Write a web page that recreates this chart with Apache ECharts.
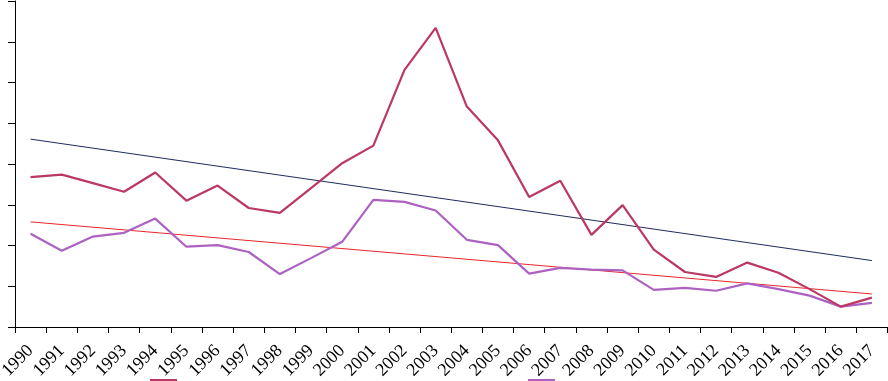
<!DOCTYPE html>
<html>
<head>
<meta charset="utf-8">
<script src="https://cdn.jsdelivr.net/npm/echarts@6/dist/echarts.min.js"></script>
<style>html,body{margin:0;padding:0;background:#fff}#c{width:888px;height:381px}</style>
</head>
<body>
<div id="c"></div>
<script>
const years = ['1990','1991','1992','1993','1994','1995','1996','1997','1998','1999','2000','2001','2002','2003','2004','2005','2006','2007','2008','2009','2010','2011','2012','2013','2014','2015','2016','2017'];
const seriesA = [3.68,3.74,3.53,3.32,3.79,3.10,3.47,2.92,2.80,3.41,4.02,4.45,6.31,7.34,5.41,4.58,3.19,3.59,2.26,2.99,1.90,1.35,1.23,1.58,1.33,0.93,0.50,0.72];
const seriesB = [2.29,1.87,2.22,2.31,2.66,1.97,2.01,1.84,1.30,1.69,2.09,3.12,3.07,2.86,2.14,2.01,1.31,1.45,1.41,1.39,0.91,0.96,0.89,1.07,0.93,0.77,0.50,0.59];
// trend line end values (first year, last year)
const trendA = [4.61, 1.63];
const trendB = [2.58, 0.81];
const yTicks = [0,1,2,3,4,5,6,7,8];

function endpoints(t){ return years.map((y,i)=> i===0 ? t[0] : (i===years.length-1 ? t[1] : null)); }

const serif = "'Liberation Serif', 'Times New Roman', 'DejaVu Serif', serif";
const legendText = {fontFamily:serif, fontSize:15, color:'#000', rich:{p:{fontFamily:serif, fontSize:15, padding:[44,0,0,0]}}};
const chart = echarts.init(document.getElementById('c'), null, {renderer:'canvas'});
chart.setOption({
  animation:false,
  backgroundColor:'#ffffff',
  grid:{left:15, right:0.5, top:1, bottom:54, containLabel:false, outerBoundsMode:'none'},
  legend:[
    {left:150, top:379, padding:0, itemWidth:27, itemHeight:4, icon:'rect', data:['Serie 1'],
     formatter:'{p|{name}}', textStyle:legendText},
    {left:528, top:379, padding:0, itemWidth:27, itemHeight:4, icon:'rect', data:['Serie 2'],
     formatter:'{p|{name}}', textStyle:legendText}
  ],
  xAxis:{type:'category', data:years, boundaryGap:true,
    axisLine:{lineStyle:{color:'#000', width:1}},
    axisTick:{show:true, alignWithLabel:false, length:6, lineStyle:{color:'#000'}},
    axisLabel:{rotate:45, interval:0, margin:21, color:'#000', fontFamily:serif, fontSize:18}
  },
  yAxis:{type:'value', min:yTicks[0], max:yTicks[yTicks.length-1], interval:1,
    axisLine:{show:true, lineStyle:{color:'#000', width:1}},
    axisTick:{show:true, length:7, lineStyle:{color:'#000'}},
    axisLabel:{show:false},
    splitLine:{show:false}
  },
  series:[
    {name:'Serie 1', type:'line', data:seriesA, symbol:'none', color:'#BB3764',
     lineStyle:{width:2.2, color:'#BB3764'}, z:5},
    {name:'Serie 2', type:'line', data:seriesB, symbol:'none', color:'#AD62C2',
     lineStyle:{width:2.2, color:'#AD62C2'}, z:4},
    {name:'Tendencia 1', type:'line', data:endpoints(trendA), connectNulls:true, symbol:'none',
     lineStyle:{width:1, color:'#1F2B5C'}, z:3},
    {name:'Tendencia 2', type:'line', data:endpoints(trendB), connectNulls:true, symbol:'none',
     lineStyle:{width:1, color:'#E8262A'}, z:3}
  ]
});
</script>
</body>
</html>
